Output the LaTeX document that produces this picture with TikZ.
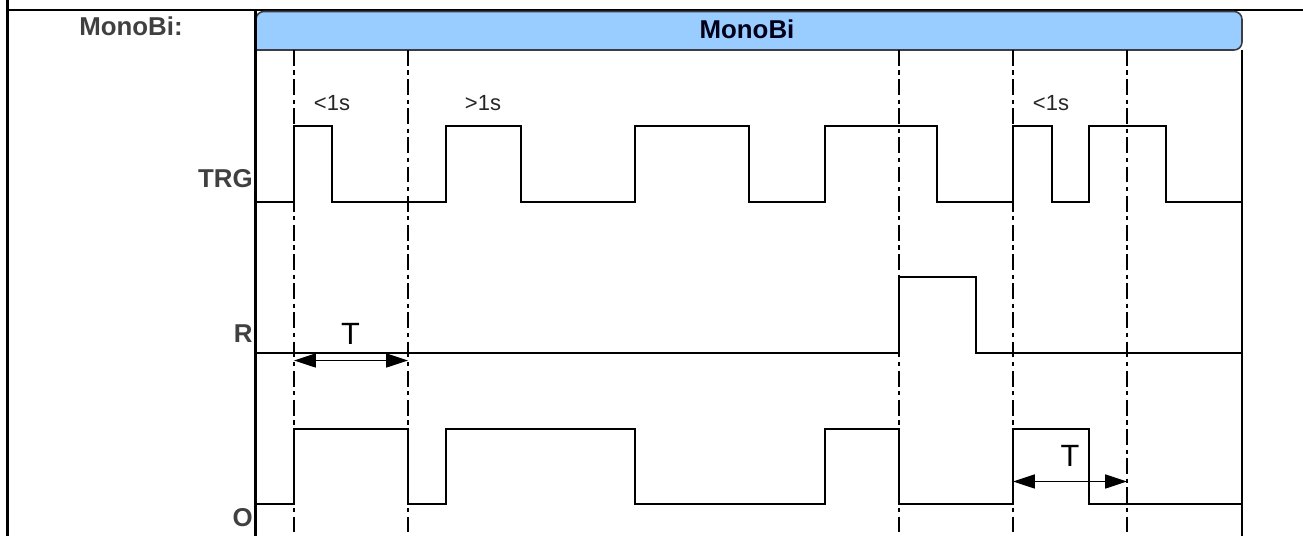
\documentclass[tikz,border=0pt]{standalone}
\usepackage{fontspec}
\setmainfont{Liberation Sans}
\usetikzlibrary{arrows.meta}
\definecolor{hdrblue}{RGB}{153,204,255}
\definecolor{hdrline}{RGB}{60,60,70}
\definecolor{lblgray}{RGB}{64,64,64}

\tikzset{
  sig/.style={line width=0.85pt, black},
  frame/.style={line width=1.4pt, black},
  marker/.style={line width=0.85pt, black, dash pattern=on 9pt off 2.6pt on 2.4pt off 2.6pt},
  dimarrow/.style={line width=0.85pt, {Triangle[length=12.5pt,width=8pt]}-{Triangle[length=12.5pt,width=8pt]}},
  lbl/.style={font=\bfseries\fontsize{14.7}{17}\selectfont, text=lblgray, inner sep=0pt},
  tlbl/.style={font=\fontsize{12.5}{14}\selectfont, text=black!85, inner sep=0pt},
  dimlbl/.style={font=\fontsize{17.5}{20}\selectfont, inner sep=0pt},
}

\begin{document}
\begin{tikzpicture}[x=0.02cm, y=-0.02cm]
  \useasboundingbox (0,0) rectangle (1303,536);

  % outer frame
  \draw[frame] (7.5,0) -- (7.5,536);
  \draw[frame] (7.5,10) -- (1303,10);

  % header bar
  \draw[hdrline, line width=0.9pt, fill=hdrblue, rounded corners=4.5pt]
    (256,50) -- (256,11.5) -- (1242,11.5) -- (1242,50) [sharp corners] -- cycle;
  \node[font=\bfseries\fontsize{14.7}{17}\selectfont, text=black!90!blue, inner sep=0pt] (title) at (747,29) {MonoBi};

  % panel sides
  \draw[line width=1.7pt] (255.5,11) -- (255.5,536);
  \draw[line width=1.1pt] (1242,50) -- (1242,536);

  % row labels
  \node[lbl] (name) at (131,26.5) {MonoBi:};
  \node[lbl, anchor=east] (trg) at (253,179) {TRG};
  \node[lbl, anchor=east] (r) at (253,334) {R};
  \node[lbl, anchor=east] (o) at (253,518) {O};

  % time markers
  \foreach \x in {294,408,899,1013,1127}
    \draw[marker] (\x,50) -- (\x,536);

  % TRG
  \draw[sig] (256,202) -- (294,202) -- (294,126) -- (332,126) -- (332,202)
    -- (446,202) -- (446,126) -- (521,126) -- (521,202)
    -- (635,202) -- (635,126) -- (749,126) -- (749,202)
    -- (825,202) -- (825,126) -- (937,126) -- (937,202)
    -- (1013,202) -- (1013,126) -- (1052,126) -- (1052,202)
    -- (1089,202) -- (1089,126) -- (1166,126) -- (1166,202) -- (1242,202);

  % R
  \draw[sig] (256,353) -- (899,353) -- (899,277) -- (976,277) -- (976,353) -- (1242,353);

  % O
  \draw[sig] (256,504) -- (294,504) -- (294,429) -- (408,429) -- (408,504)
    -- (446,504) -- (446,429) -- (635,429) -- (635,504)
    -- (825,504) -- (825,429) -- (899,429) -- (899,504)
    -- (1013,504) -- (1013,429) -- (1089,429) -- (1089,504) -- (1242,504);

  % pulse width notes
  \node[tlbl] (n1) at (332,103) {<1s};
  \node[tlbl] (n2) at (483,103) {>1s};
  \node[tlbl] (n3) at (1051,103) {<1s};

  % T spans
  \coordinate (ta) at (294,360.5);
  \coordinate (tb) at (408,360.5);
  \coordinate (tc) at (1013,481.5);
  \coordinate (td) at (1127,481.5);
  \draw[dimarrow] (ta) -- (tb);
  \draw[dimarrow] (tc) -- (td);
  \node[dimlbl] (t1) at (350.5,334) {T};
  \node[dimlbl] (t2) at (1070,456) {T};
\end{tikzpicture}
\end{document}
